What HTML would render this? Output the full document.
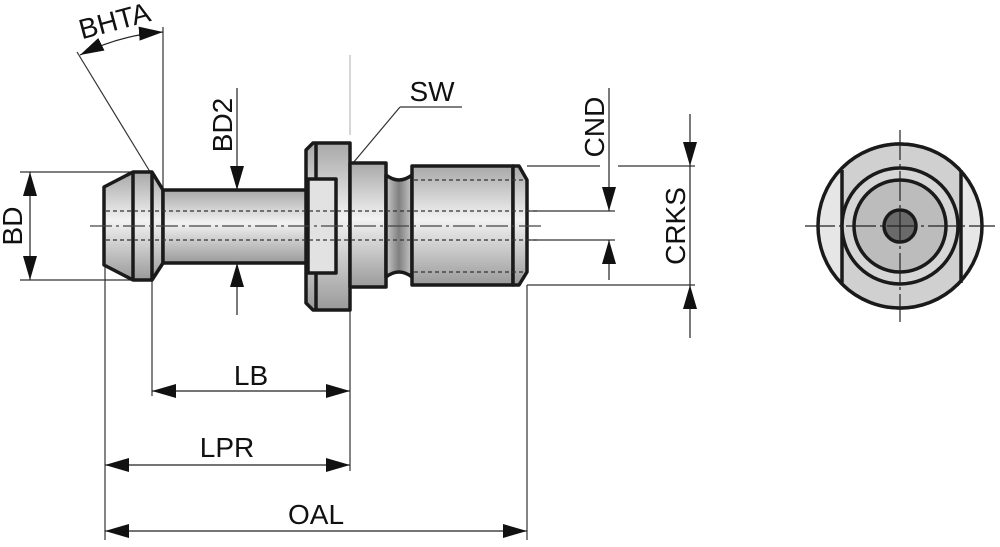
<!DOCTYPE html>
<html><head><style>body{margin:0;background:#fff}svg{display:block}</style></head><body>
<svg width="1000" height="547" viewBox="0 0 1000 547" xmlns="http://www.w3.org/2000/svg" font-family="Liberation Sans, sans-serif" font-size="28" fill="#111">
<defs>
<linearGradient id="g" x1="0" y1="0" x2="0" y2="1">
<stop offset="0" stop-color="#a8a8a8"/><stop offset="0.45" stop-color="#f2f2f2"/><stop offset="1" stop-color="#9a9a9a"/></linearGradient>
<linearGradient id="gd" x1="0" y1="0" x2="1" y2="0">
<stop offset="0" stop-color="#c8c8c8"/><stop offset="0.5" stop-color="#808080"/><stop offset="1" stop-color="#c8c8c8"/></linearGradient>
<marker id="a" viewBox="0 0 24 14" refX="24" refY="7" markerWidth="24" markerHeight="14" markerUnits="userSpaceOnUse" orient="auto-start-reverse" preserveAspectRatio="none"><path d="M0,0L24,7L0,14z" fill="#111"/></marker>
</defs>
<g stroke="#333" stroke-width="1.2" fill="none">
<line x1="20" y1="172" x2="133" y2="172"/><line x1="20" y1="280" x2="133" y2="280"/>
<line x1="105" y1="265" x2="105" y2="540"/><line x1="152" y1="280" x2="152" y2="396"/>
<line x1="350" y1="300" x2="350" y2="471"/><line x1="350" y1="55" x2="350" y2="135" stroke="#bbb"/>
<line x1="527" y1="285" x2="527" y2="540"/>
<line x1="163" y1="27" x2="163" y2="190"/>
<line x1="77" y1="52" x2="152" y2="175"/>
<line x1="527" y1="166" x2="600" y2="166"/><line x1="618" y1="166" x2="695" y2="166"/>
<line x1="527" y1="285" x2="695" y2="285"/>
<line x1="527" y1="211" x2="615" y2="211"/><line x1="527" y1="240" x2="615" y2="240"/>
<line x1="322" y1="200" x2="400" y2="107"/><line x1="400" y1="107" x2="462" y2="107"/>
</g>
<g stroke="#1a1a1a" stroke-width="3.5" stroke-linejoin="round">
<path d="M104,187 L133,172 L152,172 L163,190 L163,263 L152,280 L133,280 L104,265 Z" fill="url(#g)"/>
<line x1="133" y1="172" x2="133" y2="280"/><line x1="152" y1="172" x2="152" y2="280"/>
<rect x="163" y="190" width="145" height="73" fill="url(#g)"/>
<path d="M306,150 L313,143 L350,143 L350,310 L313,310 L306,303 Z" fill="url(#g)"/>
<line x1="316" y1="143" x2="316" y2="310"/>
<rect x="308" y="179" width="28" height="94" fill="#e2e2e2"/>
<rect x="350" y="163" width="36" height="124" fill="url(#g)"/>
<path d="M386,175 Q399,185 412,175 L412,277 Q399,267 386,277 Z" fill="url(#gd)"/>
<rect x="412" y="166" width="101" height="119" fill="url(#g)"/>
<path d="M513,166 L519,166 L527,180 L527,272 L519,285 L513,285 Z" fill="url(#g)"/>
</g>
<g stroke="#333" stroke-width="1.2" stroke-dasharray="4,3" fill="none">
<line x1="106" y1="211" x2="540" y2="211"/><line x1="106" y1="240" x2="540" y2="240"/>
<line x1="414" y1="180" x2="524" y2="180"/><line x1="414" y1="272" x2="524" y2="272"/>
</g>
<line x1="90" y1="226" x2="545" y2="226" stroke="#444" stroke-width="1.2" stroke-dasharray="22,4,3,4"/>
<g stroke="#222" stroke-width="1.2" fill="none">
<line x1="30" y1="172" x2="30" y2="280" marker-start="url(#a)" marker-end="url(#a)"/>
<line x1="237" y1="88" x2="237" y2="190" marker-end="url(#a)"/>
<line x1="237" y1="315" x2="237" y2="263" marker-end="url(#a)"/>
<line x1="152" y1="391" x2="350" y2="391" marker-start="url(#a)" marker-end="url(#a)"/>
<line x1="105" y1="465" x2="350" y2="465" marker-start="url(#a)" marker-end="url(#a)"/>
<line x1="105" y1="531" x2="527" y2="531" marker-start="url(#a)" marker-end="url(#a)"/>
<line x1="609" y1="88" x2="609" y2="211" marker-end="url(#a)"/>
<line x1="609" y1="280" x2="609" y2="240" marker-end="url(#a)"/>
<line x1="690" y1="114" x2="690" y2="166" marker-end="url(#a)"/>
<line x1="690" y1="338" x2="690" y2="285" marker-end="url(#a)"/>
<line x1="690" y1="166" x2="690" y2="285"/>
<path d="M80,55 Q120,35 163,32" marker-start="url(#a)" marker-end="url(#a)"/>
</g>
<text x="12" y="226" text-anchor="middle" transform="rotate(-90 12 226)" dy="10">BD</text>
<text x="222" y="125" text-anchor="middle" transform="rotate(-90 222 125)" dy="10">BD2</text>
<text x="594" y="127" text-anchor="middle" transform="rotate(-90 594 127)" dy="10">CND</text>
<text x="675" y="226" text-anchor="middle" transform="rotate(-90 675 226)" dy="10">CRKS</text>
<text x="117" y="30" text-anchor="middle" transform="rotate(-15 117 30)">BHTA</text>
<text x="432" y="101" text-anchor="middle">SW</text>
<text x="251" y="385" text-anchor="middle">LB</text>
<text x="227" y="457" text-anchor="middle">LPR</text>
<text x="316" y="524" text-anchor="middle">OAL</text>
<defs><clipPath id="c"><rect x="842" y="130" width="119" height="200"/></clipPath></defs>
<g stroke="#1a1a1a" stroke-width="3.5">
<circle cx="900" cy="226" r="82" fill="#e6e6e6"/>
<circle cx="900" cy="226" r="82" fill="#d0d0d0" clip-path="url(#c)"/>
<line x1="842" y1="170" x2="842" y2="283"/><line x1="961" y1="170" x2="961" y2="283"/>
<circle cx="900" cy="226" r="58" fill="#d6d6d6"/>
<circle cx="900" cy="226" r="46" fill="#bcbcbc"/>
<circle cx="900" cy="226" r="16" fill="#6a6a6a"/>
</g>
<g stroke="#222" stroke-width="1.2" stroke-dasharray="30,4,3,4">
<line x1="805" y1="226" x2="995" y2="226"/><line x1="900" y1="130" x2="900" y2="322"/>
</g>
</svg>
</body></html>
